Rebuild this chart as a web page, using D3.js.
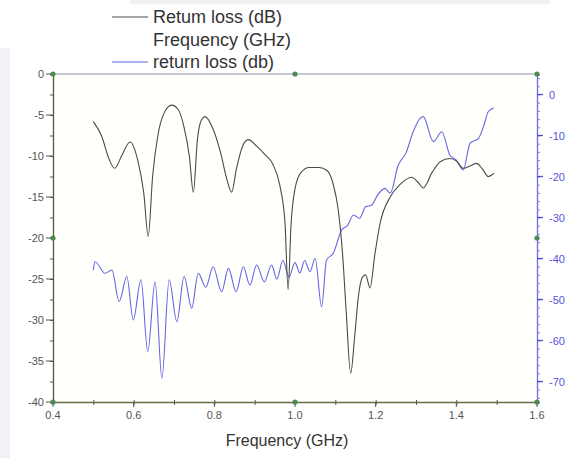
<!DOCTYPE html>
<html><head><meta charset="utf-8">
<script src="https://cdn.jsdelivr.net/npm/d3@7"></script>
<style>
body{margin:0;background:#fff;}
svg{display:block;font-family:"Liberation Sans",Arial,sans-serif;}
</style></head>
<body><svg id="c" width="573" height="458"></svg>
<script>
// Black series: Return loss (dB) vs Frequency (GHz) — left axis
const blackFreq = [0.500,0.520,0.540,0.553,0.570,0.591,0.610,0.625,0.636,0.647,0.660,0.675,0.694,0.710,0.725,0.738,0.748,0.758,0.768,0.777,0.795,0.815,0.832,0.843,0.855,0.870,0.884,0.905,0.925,0.945,0.962,0.975,0.983,0.990,1.000,1.015,1.035,1.060,1.080,1.095,1.107,1.118,1.127,1.138,1.148,1.157,1.167,1.175,1.186,1.198,1.211,1.236,1.260,1.289,1.305,1.318,1.340,1.360,1.384,1.400,1.417,1.435,1.450,1.465,1.479,1.493];
const blackLoss = [-5.8,-7.5,-10.5,-11.5,-10.0,-8.3,-10.5,-14.5,-19.8,-12.5,-7.5,-4.8,-3.8,-4.3,-6.5,-10.0,-14.4,-8.0,-5.6,-5.2,-6.5,-9.5,-13.0,-14.4,-11.5,-8.8,-8.0,-8.8,-9.8,-11.0,-13.5,-18.0,-26.3,-18.5,-14.0,-12.0,-11.4,-11.4,-11.8,-13.5,-16.5,-22.0,-29.0,-36.5,-32.0,-27.2,-24.8,-24.5,-26.1,-22.0,-18.2,-15.0,-13.5,-12.6,-13.2,-13.9,-12.0,-10.7,-10.3,-10.6,-11.5,-11.2,-10.9,-11.6,-12.5,-12.1];
// Blue series: return loss (db) — right axis
const blueFreq = [0.500,0.504,0.529,0.546,0.564,0.583,0.599,0.618,0.635,0.653,0.670,0.688,0.707,0.725,0.744,0.760,0.779,0.797,0.818,0.835,0.854,0.872,0.888,0.905,0.924,0.942,0.955,0.970,0.985,1.000,1.012,1.024,1.037,1.050,1.066,1.078,1.095,1.116,1.130,1.145,1.160,1.175,1.190,1.205,1.223,1.236,1.256,1.275,1.293,1.310,1.318,1.343,1.364,1.384,1.400,1.417,1.434,1.455,1.470,1.479,1.493];
const blueLoss = [-42.8,-40.8,-43.6,-42.8,-50.5,-44.4,-55.0,-45.2,-62.7,-45.7,-69.2,-45.2,-55.4,-44.4,-52.1,-43.6,-47.0,-42.0,-48.1,-42.4,-48.1,-42.0,-46.5,-41.6,-45.7,-41.6,-45.0,-40.5,-44.5,-41.0,-43.5,-40.5,-43.2,-40.0,-51.8,-40.4,-38.7,-33.0,-32.0,-29.4,-30.2,-27.4,-27.0,-24.5,-22.9,-24.1,-17.2,-14.3,-9.1,-5.8,-5.4,-11.5,-9.1,-14.8,-16.0,-18.4,-11.9,-10.7,-7.0,-4.2,-3.3];
const xTickLabels = ["0.4","0.6","0.8","1.0","1.2","1.4","1.6"];
const leftTicks = [0,-5,-10,-15,-20,-25,-30,-35,-40];
const rightTicks = [0,-10,-20,-30,-40,-50,-60,-70];
const legendLabels = ["Retum loss (dB)","Frequency (GHz)","return loss (db)"];

const svg = d3.select("#c");
const L=53, R=537, T=74, B=402;
const x = d3.scaleLinear().domain([0.4,1.6]).range([L,R]);
const yL = d3.scaleLinear().domain([-40,0]).range([B,T]);
const yR = d3.scaleLinear().domain([-75,5]).range([B,T]);

// faint page decoration
svg.append("rect").attr("x",0).attr("y",48).attr("width",10).attr("height",410).attr("fill","#f0f2f6");
svg.append("rect").attr("x",130).attr("y",0).attr("width",420).attr("height",4).attr("fill","#f0f1f4");

// plot background
svg.append("rect").attr("x",L).attr("y",T).attr("width",R-L).attr("height",B-T).attr("fill","#fffffb");

// top frame line
svg.append("line").attr("x1",L).attr("x2",R).attr("y1",T).attr("y2",T).attr("stroke","#8a96a8").attr("stroke-width",1.2);

// bottom axis
const gB = svg.append("g").attr("transform",`translate(0,${B})`);
gB.call(d3.axisBottom(x).tickValues(d3.range(0.4,1.61,0.1)).tickSize(3).tickFormat(""))
  .call(g=>g.select(".domain").attr("stroke","#6e6a48").attr("stroke-width",1.3))
  .call(g=>g.selectAll(".tick line").attr("stroke","#555").attr("y1",-2));
gB.selectAll(".lbl").data(xTickLabels).join("text")
  .attr("x",d=>x(+d)).attr("y",17).attr("text-anchor","middle")
  .attr("font-size",11).attr("fill","#555").text(d=>d);
gB.selectAll(".maj").data(xTickLabels).join("line")
  .attr("x1",d=>x(+d)).attr("x2",d=>x(+d)).attr("y1",0).attr("y2",5).attr("stroke","#555");

// left axis
const gL = svg.append("g").attr("transform",`translate(${L},0)`);
gL.call(d3.axisLeft(yL).tickValues(d3.range(-40,0.1,2.5)).tickSize(3).tickFormat(""))
  .call(g=>g.select(".domain").attr("stroke","#5e5535").attr("stroke-width",1.3))
  .call(g=>g.selectAll(".tick line").attr("stroke","#555"));
gL.selectAll(".maj").data(leftTicks).join("line")
  .attr("x1",-7).attr("x2",0).attr("y1",d=>yL(d)).attr("y2",d=>yL(d)).attr("stroke","#555");
gL.selectAll(".lbl").data(leftTicks).join("text")
  .attr("x",-9).attr("y",d=>yL(d)+4).attr("text-anchor","end")
  .attr("font-size",11).attr("fill","#555").text(d=>d===0?"0":"-"+Math.abs(d));

// right axis
const gR = svg.append("g").attr("transform",`translate(${R},0)`);
gR.call(d3.axisRight(yR).tickValues(d3.range(-74,4.1,2)).tickSize(3).tickFormat(""))
  .call(g=>g.select(".domain").attr("stroke","#6a6ae0").attr("stroke-width",1.3))
  .call(g=>g.selectAll(".tick line").attr("stroke","#8080e0"));
gR.selectAll(".maj").data(rightTicks).join("line")
  .attr("x1",0).attr("x2",6).attr("y1",d=>yR(d)).attr("y2",d=>yR(d)).attr("stroke","#4a4ad0").attr("stroke-width",1.3);
gR.selectAll(".lbl").data(rightTicks).join("text")
  .attr("x",12).attr("y",d=>yR(d)+4).attr("text-anchor","start")
  .attr("font-size",11).attr("fill","#5555d8").text(d=>d===0?"0":"-"+Math.abs(d));

// green frame markers
const marks = [[0.4,0],[1.0,0],[1.6,0],[0.4,-20],[1.6,-20],[0.4,-40],[1.0,-40],[1.6,-40]];
svg.selectAll(".gm").data(marks).join("circle")
  .attr("cx",d=>x(d[0])).attr("cy",d=>yL(d[1])).attr("r",2.6).attr("fill","#4f8a55");

// series
const lineB = d3.line().x(d=>x(d[0])).y(d=>yL(d[1])).curve(d3.curveMonotoneX);
const lineR = d3.line().x(d=>x(d[0])).y(d=>yR(d[1])).curve(d3.curveMonotoneX);
svg.append("path").datum(blueFreq.map((f,i)=>[f,blueLoss[i]]))
  .attr("d",lineR).attr("fill","none").attr("stroke","#6565e6").attr("stroke-width",1.1);
svg.append("path").datum(blackFreq.map((f,i)=>[f,blackLoss[i]]))
  .attr("d",lineB).attr("fill","none").attr("stroke","#4a4a4a").attr("stroke-width",1.1);

// x axis title
svg.append("text").attr("x",287).attr("y",446).attr("text-anchor","middle")
  .attr("font-size",16).attr("fill","#333").text("Frequency (GHz)");

// legend
const legY = [17,40,62];
const legCol = ["#4a4a4a",null,"#6565e6"];
legendLabels.forEach((t,i)=>{
  if(legCol[i]) svg.append("line").attr("x1",112).attr("x2",148).attr("y1",legY[i]).attr("y2",legY[i]).attr("stroke",legCol[i]).attr("stroke-width",1.1);
  svg.append("text").attr("x",153).attr("y",legY[i]+6).attr("font-size",18).attr("fill","#333").text(t);
});
</script></body></html>
